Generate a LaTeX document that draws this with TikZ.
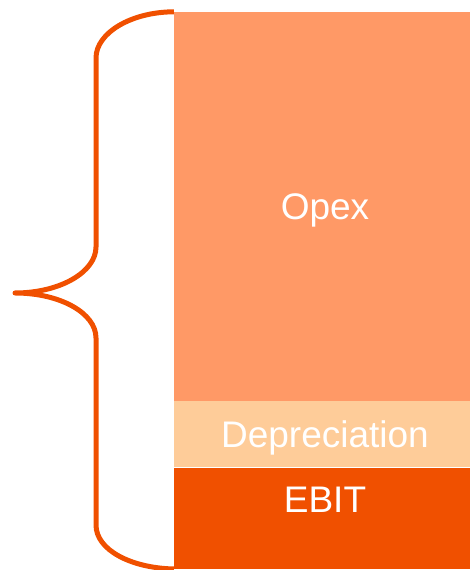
\documentclass[tikz,border=0pt]{standalone}
\usepackage{fontspec}
\setmainfont{Liberation Sans}
\usepackage{tikz}
\usetikzlibrary{positioning}
\definecolor{opexfill}{HTML}{FF9966}
\definecolor{deprfill}{HTML}{FECC99}
\definecolor{ebitfill}{HTML}{F05000}
\definecolor{bracecol}{HTML}{F05000}
\tikzset{
  bar/.style={
    fill=#1, draw=none, minimum width=302pt, inner sep=0pt,
    font=\fontsize{37}{41}\selectfont, text=white,
    text height=26.5pt, text depth=0pt
  },
  bar/.default=opexfill,
  brace/.style={draw=bracecol, line width=5pt, line join=round}
}

\begin{document}
\begin{tikzpicture}[x=1pt, y=1pt, node distance=0pt]
    \useasboundingbox (0,0) rectangle (470,570);

    \node[bar=opexfill, minimum height=389pt] (opex) at (325,363.5) {Opex};
    \node[bar=deprfill, minimum height=66pt, below=of opex] (depr) {Depreciation};
    \node[bar=ebitfill, minimum height=101pt, text depth=39pt, below=of depr] (ebit) {EBIT};

    \draw[brace] (opex.north west) .. controls (131,558) and (96,537) .. (96,512)
      -- (96,323) .. controls (96,298) and (60,277) .. (15,277)
      .. controls (60,277) and (96,257) .. (96,232)
      -- (96,45) .. controls (96,20) and (131,2) .. (ebit.south west);
  \end{tikzpicture}
\end{document}
